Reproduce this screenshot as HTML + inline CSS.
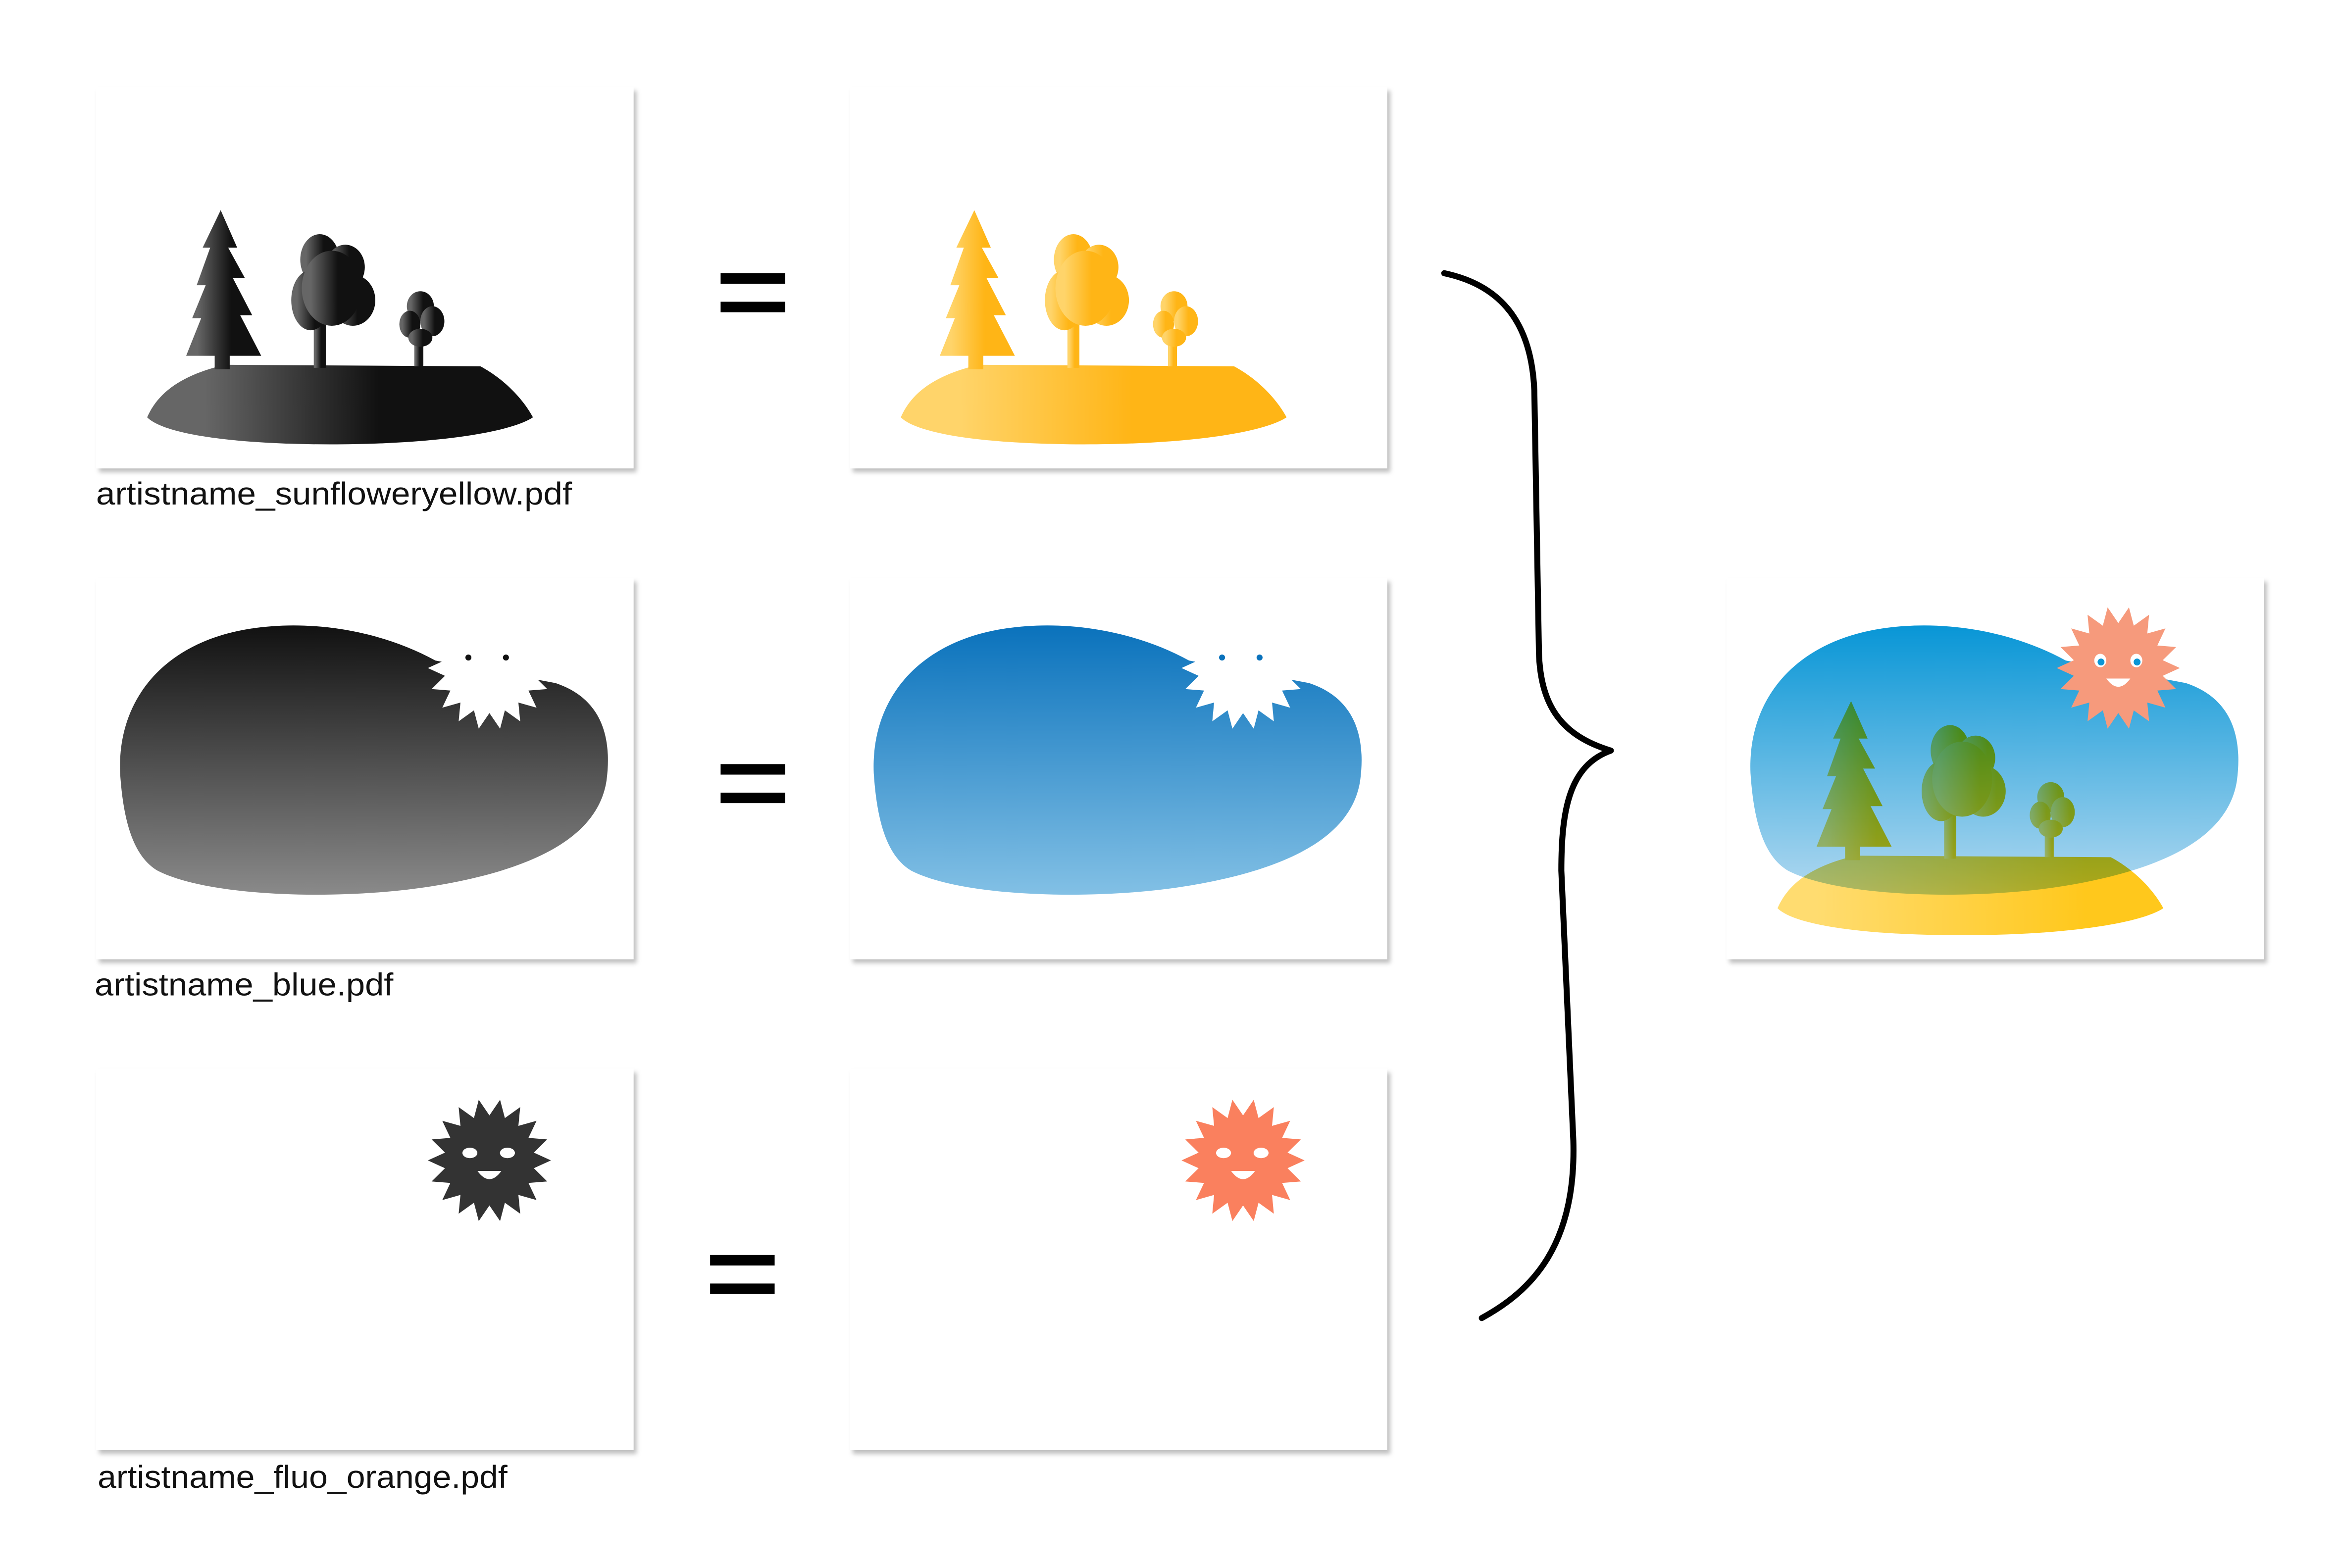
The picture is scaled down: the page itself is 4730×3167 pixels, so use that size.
<!DOCTYPE html>
<html><head><meta charset="utf-8"><style>
html,body{margin:0;padding:0;background:#fff;}
svg{display:block;}
text{font-family:"Liberation Sans Narrow","Liberation Sans",sans-serif;}
</style></head><body>
<svg width="4730" height="3167" viewBox="0 0 1560 1044.5" xmlns="http://www.w3.org/2000/svg">
<defs>
<filter id="sh" x="-5%" y="-5%" width="112%" height="115%">
<feDropShadow dx="2" dy="2.5" stdDeviation="1.5" flood-color="#000" flood-opacity="0.25"/>
</filter>
<linearGradient id="gk" x1="0" y1="0" x2="1" y2="0"><stop offset="0.15" stop-color="#666"/><stop offset="0.6" stop-color="#111"/><stop offset="1" stop-color="#111"/></linearGradient>
<linearGradient id="gy" x1="0" y1="0" x2="1" y2="0"><stop offset="0.15" stop-color="#ffd46a"/><stop offset="0.6" stop-color="#ffb516"/><stop offset="1" stop-color="#ffb516"/></linearGradient>
<linearGradient id="gy2" x1="0" y1="0" x2="1" y2="0"><stop offset="0.1" stop-color="#ffdc70"/><stop offset="0.8" stop-color="#ffc81c"/></linearGradient>
<linearGradient id="gkv" x1="0" y1="0" x2="0" y2="1"><stop offset="0" stop-color="#111"/><stop offset="1" stop-color="#8a8a8a"/></linearGradient>
<linearGradient id="gbv" x1="0" y1="0" x2="0" y2="1"><stop offset="0" stop-color="#0a72bc"/><stop offset="1" stop-color="#82c0e5"/></linearGradient>
<linearGradient id="gbf" x1="0" y1="0" x2="0" y2="1"><stop offset="0" stop-color="#0896d6"/><stop offset="1" stop-color="#b0d8f0"/></linearGradient>
<polygon id="sun" points="41,0 29.6,5.2 38.5,14 26,15 31.4,26.4 19.3,23 20.5,35.5 10.3,28.2 7.1,40.4 0,30 -7.1,40.4 -10.3,28.2 -20.5,35.5 -19.3,23 -31.4,26.4 -26,15 -38.5,14 -29.6,5.2 -41,0 -29.6,-5.2 -38.5,-14 -26,-15 -31.4,-26.4 -19.3,-23 -20.5,-35.5 -10.3,-28.2 -7.1,-40.4 0,-30 7.1,-40.4 10.3,-28.2 20.5,-35.5 19.3,-23 31.4,-26.4 26,-15 38.5,-14 29.6,-5.2"/>
<g id="land">
<path d="M98,278 C105,262 120,250 150,243 L320,244 C335,252 348,265 355,278 C340,288 290,296 220,296 C160,296 110,290 98,278 Z"/>
<polygon points="147,140 158,165 152,165 163,185 155,185 168,210 160,210 174,237 153,237 153,246 143,246 143,237 124,237 134,212 128,212 137,190 131,190 140,165 135,165"/>
<rect x="209" y="205" width="8" height="40"/>
<ellipse cx="213" cy="173" rx="13" ry="17"/><ellipse cx="230" cy="178" rx="13" ry="15"/>
<ellipse cx="235" cy="200" rx="15" ry="17"/><ellipse cx="207" cy="200" rx="13" ry="20"/>
<ellipse cx="221" cy="192" rx="20" ry="25"/>
<rect x="276" y="222" width="6" height="22"/>
<ellipse cx="280" cy="204" rx="9" ry="10"/><ellipse cx="273" cy="216" rx="7" ry="9"/>
<ellipse cx="288" cy="214" rx="8" ry="10"/><ellipse cx="280" cy="225" rx="8" ry="6"/>
</g>
<path id="blob" d="M80,515 C78,465 110,430 160,420 C200,412 250,418 290,440 L370,455 C400,465 408,490 404,520 C398,560 350,580 290,590 C230,600 140,598 105,580 C88,570 82,545 80,515 Z"/>
</defs>

<g fill="#fff" filter="url(#sh)">
<rect x="64" y="58" width="358" height="254"/><rect x="566" y="58" width="358" height="254"/>
<rect x="64" y="385" width="358" height="254"/><rect x="566" y="385" width="358" height="254"/>
<rect x="64" y="712" width="358" height="254"/><rect x="566" y="712" width="358" height="254"/>
<rect x="1150" y="385" width="358" height="254"/>
</g>

<use href="#land" fill="url(#gk)"/>
<use href="#land" fill="url(#gy)" transform="translate(502,0)"/>

<use href="#blob" fill="url(#gkv)"/>
<use href="#sun" fill="#fff" transform="translate(326,445)"/>
<rect x="300" y="415" width="60" height="25" fill="#fff"/>
<circle cx="312" cy="438" r="2" fill="#111"/><circle cx="337" cy="438" r="2" fill="#111"/>
<g transform="translate(502,0)">
<use href="#blob" fill="url(#gbv)"/>
<use href="#sun" fill="#fff" transform="translate(326,445)"/>
<rect x="300" y="415" width="60" height="25" fill="#fff"/>
<circle cx="312" cy="438" r="2" fill="#0a72bc"/><circle cx="337" cy="438" r="2" fill="#0a72bc"/>
</g>

<g transform="translate(326,773)">
<use href="#sun" fill="#333"/>
<ellipse cx="-13" cy="-5" rx="5" ry="3.5" fill="#fff"/><ellipse cx="12" cy="-5" rx="5" ry="3.5" fill="#fff"/>
<path d="M-8,7 Q0,18 8,7 Z" fill="#fff"/>
</g>
<g transform="translate(828,773)">
<use href="#sun" fill="#fa805e"/>
<ellipse cx="-13" cy="-5" rx="5" ry="3.5" fill="#fff"/><ellipse cx="12" cy="-5" rx="5" ry="3.5" fill="#fff"/>
<path d="M-8,7 Q0,18 8,7 Z" fill="#fff"/>
</g>

<g transform="translate(1086,0)">
<use href="#blob" fill="url(#gbf)"/>
</g>
<g transform="translate(1086,327)" style="mix-blend-mode:multiply">
<use href="#land" fill="url(#gy2)"/>
</g>
<g transform="translate(1411,445)">
<use href="#sun" fill="#f69a7c"/>
<ellipse cx="-12" cy="-5" rx="4" ry="4.5" fill="#fff"/><ellipse cx="12" cy="-5" rx="4" ry="4.5" fill="#fff"/>
<circle cx="-11.5" cy="-4" r="2.3" fill="#0a96d6"/><circle cx="12.5" cy="-4" r="2.3" fill="#0a96d6"/>
<path d="M-8,7 Q0,18 8,7 Z" fill="#fff"/>
</g>

<g fill="#000">
<rect x="480" y="182" width="43" height="7"/><rect x="480" y="201" width="43" height="7"/>
<rect x="480" y="509" width="43" height="7"/><rect x="480" y="528" width="43" height="7"/>
<rect x="473" y="836" width="43" height="7"/><rect x="473" y="855" width="43" height="7"/>
</g>

<path d="M962,182 C1000,190 1020,215 1022,260 L1025,430 C1025,470 1040,490 1073,500 C1045,510 1040,540 1040,580 L1048,760 C1050,830 1020,860 987,878" fill="none" stroke="#000" stroke-width="4" stroke-linecap="round" stroke-linejoin="round"/>

<g font-size="21" fill="#111">
<text x="64" y="336" textLength="317" lengthAdjust="spacingAndGlyphs">artistname_sunfloweryellow.pdf</text>
<text x="63" y="663" textLength="199" lengthAdjust="spacingAndGlyphs">artistname_blue.pdf</text>
<text x="65" y="991" textLength="273" lengthAdjust="spacingAndGlyphs">artistname_fluo_orange.pdf</text>
</g>
</svg>
</body></html>
